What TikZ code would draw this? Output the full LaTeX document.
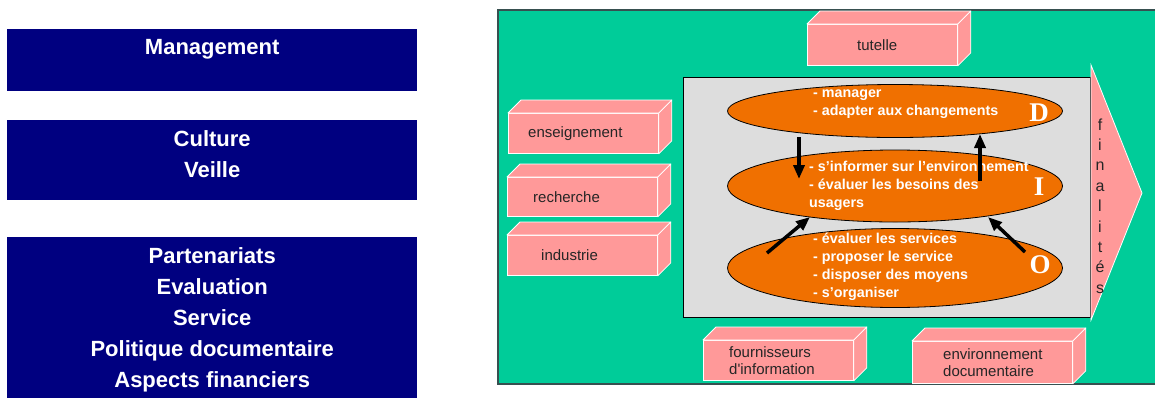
\documentclass[tikz,border=0pt]{standalone}
\usepackage{fontspec}
\setmainfont{Liberation Sans}
\newfontfamily\letterfont{Liberation Serif}
\usetikzlibrary{arrows.meta,positioning,shapes.geometric,calc}
\definecolor{DeepNavy}{RGB}{0,0,128}
\definecolor{SeaGreen}{RGB}{0,204,153}
\definecolor{SoftPink}{RGB}{255,153,153}
\definecolor{HotOrange}{RGB}{240,112,0}
\definecolor{PaleGray}{RGB}{221,221,221}
\definecolor{EdgeGray}{RGB}{55,80,80}
\tikzset{
  theme/.style={fill=DeepNavy,draw=none,minimum width=410pt,anchor=north west,
    inner sep=0pt},
  themetext/.style={text=white,font=\bfseries\fontsize{22}{31}\selectfont,
    align=center,inner sep=0pt,anchor=north},
  block/.style={fill=SoftPink,draw=white,line width=0.8pt,anchor=north west,
    inner sep=0pt},
  face/.style={fill=SoftPink,draw=white,line width=0.8pt,line join=round},
  tag/.style={font=\fontsize{15}{17}\selectfont,align=left,inner sep=0pt,
    text=black!85},
  level/.style={ellipse,fill=HotOrange,draw=black,line width=0.8pt,
    minimum width=335pt,inner sep=0pt},
  task/.style={font=\bfseries\fontsize{14.3}{18}\selectfont,text=white,
    align=left,inner sep=0pt,anchor=west},
  letter/.style={font=\letterfont\bfseries\fontsize{27}{27}\selectfont,
    text=white,inner sep=0pt},
  flow/.style={-{Triangle[length=14pt,width=11pt]},line width=3.5pt}
}
\begin{document}
\begin{tikzpicture}[x=1pt,y=-1pt]
  \useasboundingbox (0,0) rectangle (1155,397);
  \node[theme,minimum height=62pt] (mgmt) at (7,29) {};
  \node[theme,minimum height=80pt] (cult) at (7,120) {};
  \node[theme,minimum height=170pt] (part) at (7,237) {};
  \node[themetext,below=10pt of mgmt.north] (mgmtt) {Management};
  \node[themetext,below=10pt of cult.north] (cultt) {Culture\\Veille};
  \node[themetext,below=10pt of part.north] (partt)
    {Partenariats\\Evaluation\\Service\\Politique documentaire\\Aspects financiers};
  \draw[fill=SeaGreen,draw=EdgeGray,line width=1.3pt] (498,10) rectangle (1170,384);
  \node[block,minimum width=150pt,minimum height=41pt] (tut) at (807,24) {};
  \node[block,minimum width=150pt,minimum height=40pt] (ens) at (508,113) {};
  \node[block,minimum width=150pt,minimum height=39pt] (rec) at (507,177) {};
  \node[block,minimum width=150pt,minimum height=40pt] (ind) at (507,235) {};
  \node[block,minimum width=150pt,minimum height=40pt] (four) at (703,340) {};
  \node[block,minimum width=160pt,minimum height=42pt] (env) at (912,341) {};
  \foreach \b in {tut,ens,rec,ind,four,env}{
    \draw[face] (\b.north west) -- ++(13,-13) -- ($(\b.north east)+(13,-13)$)
      -- (\b.north east) -- cycle;
    \draw[face] (\b.north east) -- ++(13,-13) -- ($(\b.south east)+(13,-13)$)
      -- (\b.south east) -- cycle;
  }
  \node[tag,right=50pt of tut.west] (tutt) {tutelle};
  \node[tag,right=20pt of ens.west] (enst) {enseignement};
  \node[tag,right=26pt of rec.west] (rect) {recherche};
  \node[tag,right=34pt of ind.west] (indt) {industrie};
  \node[tag,right=26pt of four.west] (fourt) {fournisseurs\\d\textquotesingle information};
  \node[tag,right=31pt of env.west] (envt) {environnement\\documentaire};
  \draw[fill=PaleGray,draw=black,line width=1pt] (683,77) rectangle (1090,317);
  \fill[SoftPink,draw=white,line width=0.8pt] (1091,65) -- (1142,193) -- (1091,320) -- cycle;
  \foreach \l [count=\i from 0] in {f,i,n,a,l,i,t,é,s}
    \node[tag,font=\fontsize{16}{16}\selectfont,anchor=base] (fin\i)
      at (1100,{130+20.4*\i}) {\l};
  \node[level,minimum height=53pt] (lvD) at (895,111) {};
  \node[level,minimum height=72pt] (lvI) at (895,186) {};
  \node[level,minimum height=79pt] (lvO) at (895,268) {};
  \node[task] (tD) at (813,104) {- manager\\- adapter aux changements};
  \node[task] (tI) at (809,186)
    {- s’informer sur l’environnement\\- évaluer les besoins des\\usagers};
  \node[task] (tO) at (813,267)
    {- évaluer les services\\- proposer le service\\- disposer des moyens\\- s’organiser};
  \node[letter] (kD) at (1039,113) {D};
  \node[letter] (kI) at (1039,187) {I};
  \node[letter] (kO) at (1040,265) {O};
  \coordinate (dn1) at (799,137);
  \coordinate (dn2) at (799,179);
  \coordinate (up1) at (980,181);
  \coordinate (up2) at (980,134);
  \coordinate (lf1) at (767,253);
  \coordinate (lf2) at (810,217);
  \coordinate (rt1) at (1025,252);
  \coordinate (rt2) at (988,217);
  \draw[flow] (dn1) -- (dn2);
  \draw[flow] (up1) -- (up2);
  \draw[flow] (lf1) -- (lf2);
  \draw[flow] (rt1) -- (rt2);
\end{tikzpicture}
\end{document}
